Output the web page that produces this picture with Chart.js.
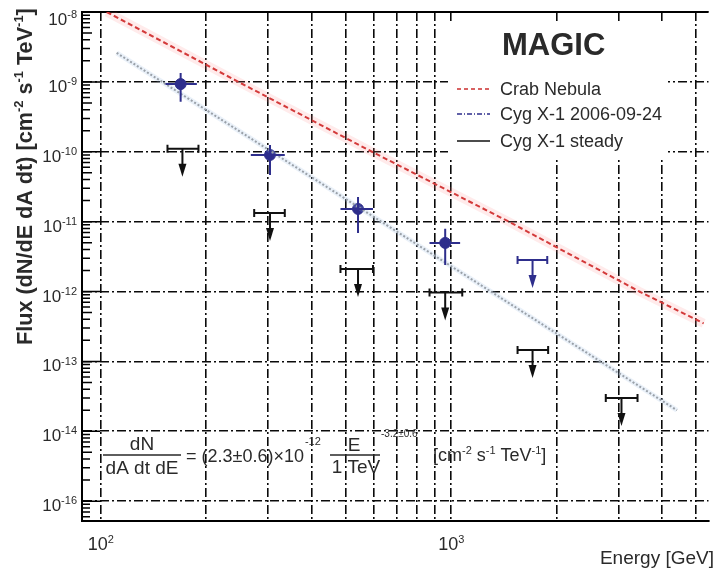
<!DOCTYPE html>
<html>
<head>
<meta charset="utf-8">
<script src="https://cdn.jsdelivr.net/npm/chart.js@4/dist/chart.umd.min.js"></script>
<style>
  html, body { margin: 0; padding: 0; background: #fff; }
</style>
</head>
<body>
<canvas id="sed" width="715" height="574"></canvas>
<script>
// energy in GeV, flux in cm^-2 s^-1 TeV^-1

// Crab Nebula reference spectrum (red dashed)
const crabE = [104, 247, 594, 1459, 3443, 5250];
const crabF = [1e-8, 1e-9, 1e-10, 1e-11, 1e-12, 3.5e-13];

// power law fit (grey dotted)
const fitE = [111, 4405];
const fitF = [2.6e-9, 2.0e-14];

// Cyg X-1 2006-09-24 measured points
const flareE   = [169, 304, 542, 961];
const flareELo = [153, 268, 483, 867];
const flareEHi = [188, 335, 598, 1060];
const flareF   = [9.3e-10, 9.0e-11, 1.52e-11, 4.96e-12];
const flareFLo = [5.2e-10, 4.65e-11, 6.9e-12, 2.4e-12];
const flareFHi = [1.34e-9, 1.25e-10, 2.25e-11, 7.9e-12];

// Cyg X-1 2006-09-24 upper limit
const flareUlE   = [1706];
const flareUlELo = [1546];
const flareUlEHi = [1879];
const flareUlF   = [2.83e-12];

// Cyg X-1 steady upper limits
const steadyE   = [171, 304, 542, 961, 1706, 3060];
const steadyELo = [155, 274, 483, 867, 1546, 2760];
const steadyEHi = [190, 335, 598, 1075, 1890, 3400];
const steadyF   = [1.1e-10, 1.33e-11, 2.1e-12, 9.7e-13, 1.46e-13, 3.0e-14];

// axes
const xGrid = [100, 200, 300, 400, 500, 600, 700, 800, 900, 1000, 2000, 3000, 4000, 5000];
const xLabelVals = [100, 1000];
const xLabelExp  = ['2', '3'];
const yGrid = [1e-15, 1e-14, 1e-13, 1e-12, 1e-11, 1e-10, 1e-9, 1e-8];
const yLabelExp = ['-16', '-14', '-13', '-12', '-11', '-10', '-9', '-8'];

const FONT = '"Liberation Sans", Arial, sans-serif';
const TXT = '#2a2a2a';
const RED = '#cc2f2f';
const BLUE = '#2e2e8c';

const pts = (xs, ys) => xs.map((x, i) => ({x: x, y: ys[i]}));

// draw a run of text pieces, some of them superscripts
function runs(ctx, parts, x, y, size, weight, measureOnly) {
    let w = 0;
    parts.forEach(p => {
        const s = p.sup ? Math.round(size * 0.62) : size;
        ctx.font = (weight || '') + ' ' + s + 'px ' + FONT;
        if (!measureOnly) ctx.fillText(p.t, x + w, p.sup ? y - size * 0.4 : y);
        w += ctx.measureText(p.t).width;
    });
    return w;
}

const decor = {
    id: 'decor',
    beforeDatasetsDraw(chart) {
        const {ctx, chartArea: a, scales: {y}} = chart;
        ctx.save();
        // top frame
        ctx.strokeStyle = '#000';
        ctx.lineWidth = 2;
        ctx.beginPath();
        ctx.moveTo(a.left, a.top);
        ctx.lineTo(a.right, a.top);
        ctx.stroke();
        // inner ticks on y axis
        ctx.lineWidth = 1.5;
        ctx.beginPath();
        yGrid.forEach(d => {
            const py = y.getPixelForValue(d);
            ctx.moveTo(a.left, py); ctx.lineTo(a.left + 18, py);
            for (let k = 2; k <= 9; k++) {
                const v = d * k / 10;
                if (v < y.min) continue;
                const q = y.getPixelForValue(v);
                ctx.moveTo(a.left, q); ctx.lineTo(a.left + (k === 5 ? 10 : 8), q);
            }
        });
        ctx.stroke();
        // legend background hides the grid
        ctx.fillStyle = '#fff';
        ctx.fillRect(448, 24, 220, 136);
        ctx.restore();
    },
    afterDatasetsDraw(chart) {
        const {ctx, scales: {x, y}} = chart;
        ctx.save();
        // error bars of the flare points
        ctx.strokeStyle = BLUE;
        ctx.lineWidth = 2;
        ctx.beginPath();
        flareE.forEach((e, i) => {
            const px = x.getPixelForValue(e), py = y.getPixelForValue(flareF[i]);
            ctx.moveTo(x.getPixelForValue(flareELo[i]), py);
            ctx.lineTo(x.getPixelForValue(flareEHi[i]), py);
            ctx.moveTo(px, y.getPixelForValue(flareFLo[i]));
            ctx.lineTo(px, y.getPixelForValue(flareFHi[i]));
        });
        ctx.stroke();
        // upper limits
        const limit = (es, lo, hi, fs, col) => {
            ctx.strokeStyle = col;
            ctx.fillStyle = col;
            es.forEach((e, i) => {
                const px = x.getPixelForValue(e), py = y.getPixelForValue(fs[i]);
                const x1 = x.getPixelForValue(lo[i]), x2 = x.getPixelForValue(hi[i]);
                ctx.lineWidth = 2;
                ctx.beginPath();
                ctx.moveTo(x1, py); ctx.lineTo(x2, py);
                ctx.moveTo(x1, py - 4); ctx.lineTo(x1, py + 4);
                ctx.moveTo(x2, py - 4); ctx.lineTo(x2, py + 4);
                ctx.moveTo(px, py); ctx.lineTo(px, py + 20);
                ctx.stroke();
                ctx.beginPath();
                ctx.moveTo(px - 4, py + 15);
                ctx.lineTo(px + 4, py + 15);
                ctx.lineTo(px, py + 28);
                ctx.closePath();
                ctx.fill();
            });
        };
        limit(steadyE, steadyELo, steadyEHi, steadyF, '#111');
        limit(flareUlE, flareUlELo, flareUlEHi, flareUlF, BLUE);
        ctx.restore();
    },
    afterDraw(chart) {
        const {ctx, chartArea: a, scales: {x, y}} = chart;
        ctx.save();
        ctx.fillStyle = TXT;
        ctx.textBaseline = 'alphabetic';

        // y tick labels
        yGrid.forEach((d, i) => {
            const py = y.getPixelForValue(d);
            const parts = [{t: '10'}, {t: yLabelExp[i], sup: true}];
            const w = runs(ctx, parts, 0, 0, 17, '', true);
            runs(ctx, parts, 77 - w, Math.max(py + 10, 25), 17);
        });
        // x tick labels
        xLabelVals.forEach((v, i) => {
            const px = x.getPixelForValue(v);
            const parts = [{t: '10'}, {t: xLabelExp[i], sup: true}];
            const w = runs(ctx, parts, 0, 0, 18, '', true);
            runs(ctx, parts, px - w / 2, 550, 18);
        });

        // axis titles
        ctx.font = '19px ' + FONT;
        ctx.textAlign = 'right';
        ctx.fillText('Energy [GeV]', 714, 564);
        ctx.textAlign = 'left';
        const yTitle = [{t: 'Flux (dN/dE dA dt) [cm'}, {t: '-2', sup: true}, {t: ' s'},
                        {t: '-1', sup: true}, {t: ' TeV'}, {t: '-1', sup: true}, {t: ']'}];
        const tw = runs(ctx, yTitle, 0, 0, 20, 'bold', true);
        const ts = 20 * 337 / tw;
        ctx.translate(32, 345);
        ctx.rotate(-Math.PI / 2);
        runs(ctx, yTitle, 0, 0, ts, 'bold');
        ctx.setTransform(1, 0, 0, 1, 0, 0);

        // legend
        ctx.font = 'bold 31px ' + FONT;
        ctx.fillText('MAGIC', 502, 55);
        ctx.font = '18px ' + FONT;
        const rows = [
            {label: 'Crab Nebula', col: RED, dash: [4, 3], y: 89},
            {label: 'Cyg X-1 2006-09-24', col: BLUE, dash: [5, 2, 1, 2], y: 114},
            {label: 'Cyg X-1 steady', col: '#111', dash: [], y: 141}
        ];
        rows.forEach(r => {
            ctx.strokeStyle = r.col;
            ctx.lineWidth = 1.5;
            ctx.setLineDash(r.dash);
            ctx.beginPath();
            ctx.moveTo(457, r.y); ctx.lineTo(490, r.y);
            ctx.stroke();
            ctx.fillText(r.label, 500, r.y + 6);
        });
        ctx.setLineDash([]);

        // fit formula
        ctx.strokeStyle = TXT;
        ctx.lineWidth = 1.5;
        ctx.textAlign = 'center';
        ctx.font = '19px ' + FONT;
        ctx.fillText('dN', 142, 450);
        ctx.fillText('dA dt dE', 142, 474);
        ctx.fillText('E', 354, 451);
        ctx.fillText('1 TeV', 356, 473);
        ctx.beginPath();
        ctx.moveTo(103, 455); ctx.lineTo(181, 455);
        ctx.moveTo(330, 455); ctx.lineTo(380, 455);
        ctx.stroke();
        ctx.textAlign = 'left';
        const w1 = runs(ctx, [{t: '= (2.3±0.6)×10'}], 186, 462, 18);
        runs(ctx, [{t: '-12'}], 186 + w1 + 1, 445, 11);
        runs(ctx, [{t: '-3.2±0.6'}], 381, 437, 10);
        runs(ctx, [{t: '[cm'}, {t: '-2', sup: true}, {t: ' s'}, {t: '-1', sup: true},
                   {t: ' TeV'}, {t: '-1', sup: true}, {t: ']'}], 433, 461, 18);
        ctx.restore();
    }
};

const ctx = document.getElementById('sed').getContext('2d');

new Chart(ctx, {
    type: 'scatter',
    data: {
        datasets: [
            {
                data: pts(crabE, crabF), showLine: true, pointRadius: 0,
                borderColor: 'rgba(255,120,120,0.15)', borderWidth: 9
            },
            {
                label: 'Crab Nebula',
                data: pts(crabE, crabF), showLine: true, pointRadius: 0,
                borderColor: RED, borderWidth: 2, borderDash: [5, 3]
            },
            {
                data: pts(fitE, fitF), showLine: true, pointRadius: 0,
                borderColor: 'rgba(150,185,225,0.2)', borderWidth: 5
            },
            {
                label: 'fit',
                data: pts(fitE, fitF), showLine: true, pointRadius: 0,
                borderColor: '#9a9a9a', borderWidth: 2, borderDash: [2, 2]
            },
            {
                label: 'Cyg X-1 2006-09-24',
                data: pts(flareE, flareF),
                pointRadius: 5.5, backgroundColor: BLUE, borderColor: BLUE
            },
            {
                label: 'Cyg X-1 2006-09-24 UL',
                data: pts(flareUlE, flareUlF), pointRadius: 0
            },
            {
                label: 'Cyg X-1 steady',
                data: pts(steadyE, steadyF), pointRadius: 0
            }
        ]
    },
    options: {
        responsive: false,
        animation: false,
        devicePixelRatio: 1,
        layout: { padding: { left: 82, top: 12, right: 0, bottom: 53 } },
        plugins: { legend: { display: false }, tooltip: { enabled: false } },
        scales: {
            x: {
                type: 'logarithmic', min: 88.4, max: 5420,
                afterBuildTicks: s => { s.ticks = xGrid.map(v => ({value: v})); },
                ticks: { display: false },
                grid: { color: '#0a0a0a', lineWidth: 1.6, drawTicks: false },
                border: { color: '#000', width: 2, dash: [9, 3, 2, 3] }
            },
            y: {
                type: 'logarithmic', min: 5.2e-16, max: 1e-8,
                afterBuildTicks: s => { s.ticks = yGrid.map(v => ({value: v})); },
                ticks: { display: false },
                grid: { color: '#0a0a0a', lineWidth: 1.6, drawTicks: false },
                border: { color: '#000', width: 2, dash: [9, 3, 2, 3] }
            }
        }
    },
    plugins: [decor]
});
</script>
</body>
</html>
